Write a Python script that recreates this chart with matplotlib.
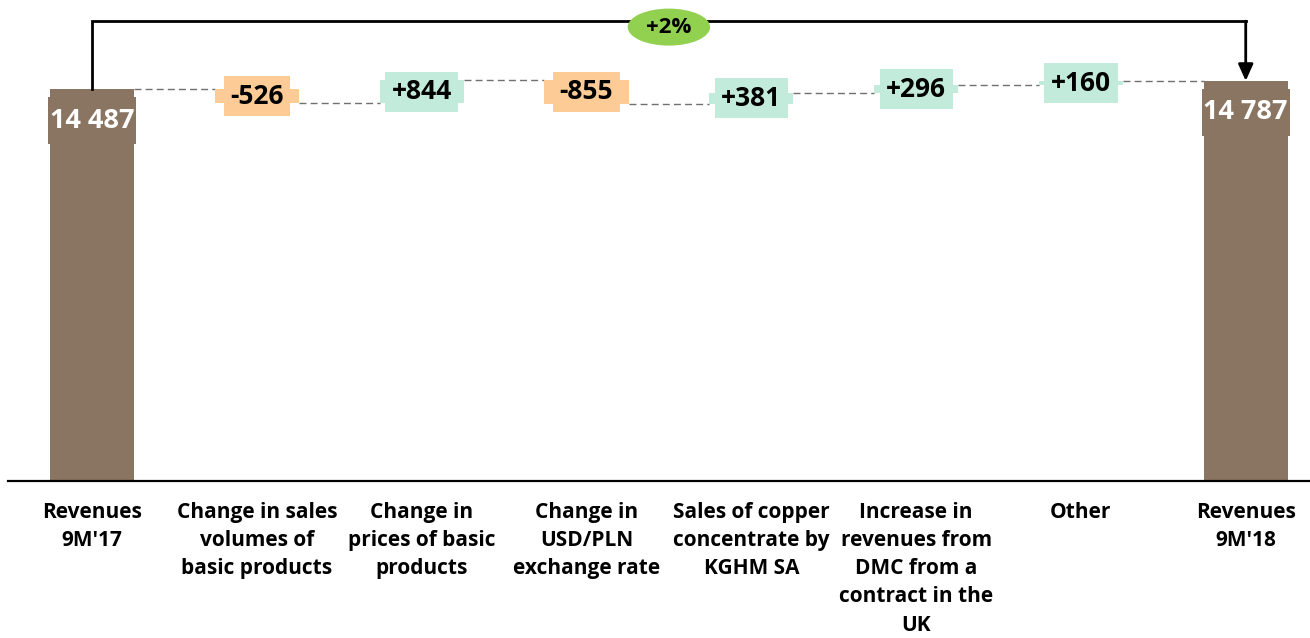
import matplotlib.pyplot as plt
from matplotlib.patches import Ellipse, Rectangle
import numpy as np

plt.rcParams['font.family'] = ['Open Sans', 'DejaVu Sans']
plt.rcParams['font.weight'] = 'bold'

categories = ["Revenues\n9M'17", "Change in sales\nvolumes of\nbasic products",
              "Change in\nprices of basic\nproducts", "Change in\nUSD/PLN\nexchange rate",
              "Sales of copper\nconcentrate by\nKGHM SA",
              "Increase in\nrevenues from\nDMC from a\ncontract in the\nUK",
              "Other", "Revenues\n9M'18"]
start_value = 14487
end_value = 14787
changes = [-526, 844, -855, 381, 296, 160]

brown = '#8a7562'
up_col = '#c3ebdb'
down_col = '#fdcb95'

fig = plt.figure(figsize=(13.1, 6.38), dpi=100)
ax = fig.add_axes([8 / 1310, 157 / 638, 1 - 8 / 1310, 481 / 638])

n = len(categories)
x = np.arange(n)
w = 0.51
ymax = (481 / 392) * start_value
px = ymax / 481  # data units per pixel

# running levels
levels = [start_value]
for c in changes:
    levels.append(levels[-1] + c)

# total bars
ax.bar([0, n - 1], [start_value, end_value], width=w, color=brown, zorder=2)
for xi, v in [(0, start_value), (n - 1, end_value)]:
    ax.add_patch(Rectangle((xi - 0.267, v - 55 * px), 0.534, 47 * px, fc=brown, ec='none', zorder=3))
    ax.text(xi, v - 31.5 * px, f"{v:,}".replace(',', ' '), ha='center', va='center',
            color='white', fontsize=19.5, fontweight='bold', zorder=4)

# change bars with labels
for i, c in enumerate(changes):
    xi = i + 1
    lo = min(levels[i], levels[i + 1])
    col = up_col if c > 0 else down_col
    ax.bar(xi, abs(c), bottom=lo, width=w, color=col, zorder=2)
    ax.text(xi, lo + abs(c) / 2, f"{c:+d}", ha='center', va='center', fontsize=19,
            fontweight='bold', color='black', zorder=4,
            bbox=dict(boxstyle='square,pad=0.25', fc=col, ec='none'))

# dashed connectors
for i in range(n - 1):
    ax.plot([x[i] + w / 2, x[i + 1] - w / 2], [levels[i], levels[i]], ls=(0, (5, 3)),
            color='#707070', lw=1, zorder=1)

# bracket arrow with percent change
top = max(levels) * 1.148
ax.plot([0, 0, n - 1], [start_value, top, top], color='black', lw=2, zorder=3,
        solid_joinstyle='miter')
ax.annotate('', xy=(n - 1, end_value), xytext=(n - 1, top),
            arrowprops=dict(arrowstyle='-|>,head_length=1.0,head_width=0.45', color='black',
                            lw=2, shrinkA=0, shrinkB=0), zorder=3)
pct = (end_value - start_value) / start_value * 100
cx = (n - 1) / 2
ax.add_patch(Ellipse((cx, top - 6 * px), 0.5, 37 * px, fc='#92d050', ec='none', zorder=4))
ax.text(cx, top - 6 * px, f"{pct:+.0f}%", ha='center', va='center', fontsize=16,
        fontweight='bold', zorder=5)

# category labels
for xi, lab in zip(x, categories):
    ax.annotate(lab, (xi, 0), xytext=(0, -15), textcoords='offset points', ha='center',
                va='top', fontsize=15, fontweight='bold', linespacing=1.45, annotation_clip=False)

ax.set_xlim(-0.51, 7.39)
ax.set_ylim(0, ymax)
for s in ['top', 'left', 'right']:
    ax.spines[s].set_visible(False)
ax.spines['bottom'].set_linewidth(1.6)
ax.set_xticks([])
ax.set_yticks([])

fig.savefig('out.png', dpi=100)
